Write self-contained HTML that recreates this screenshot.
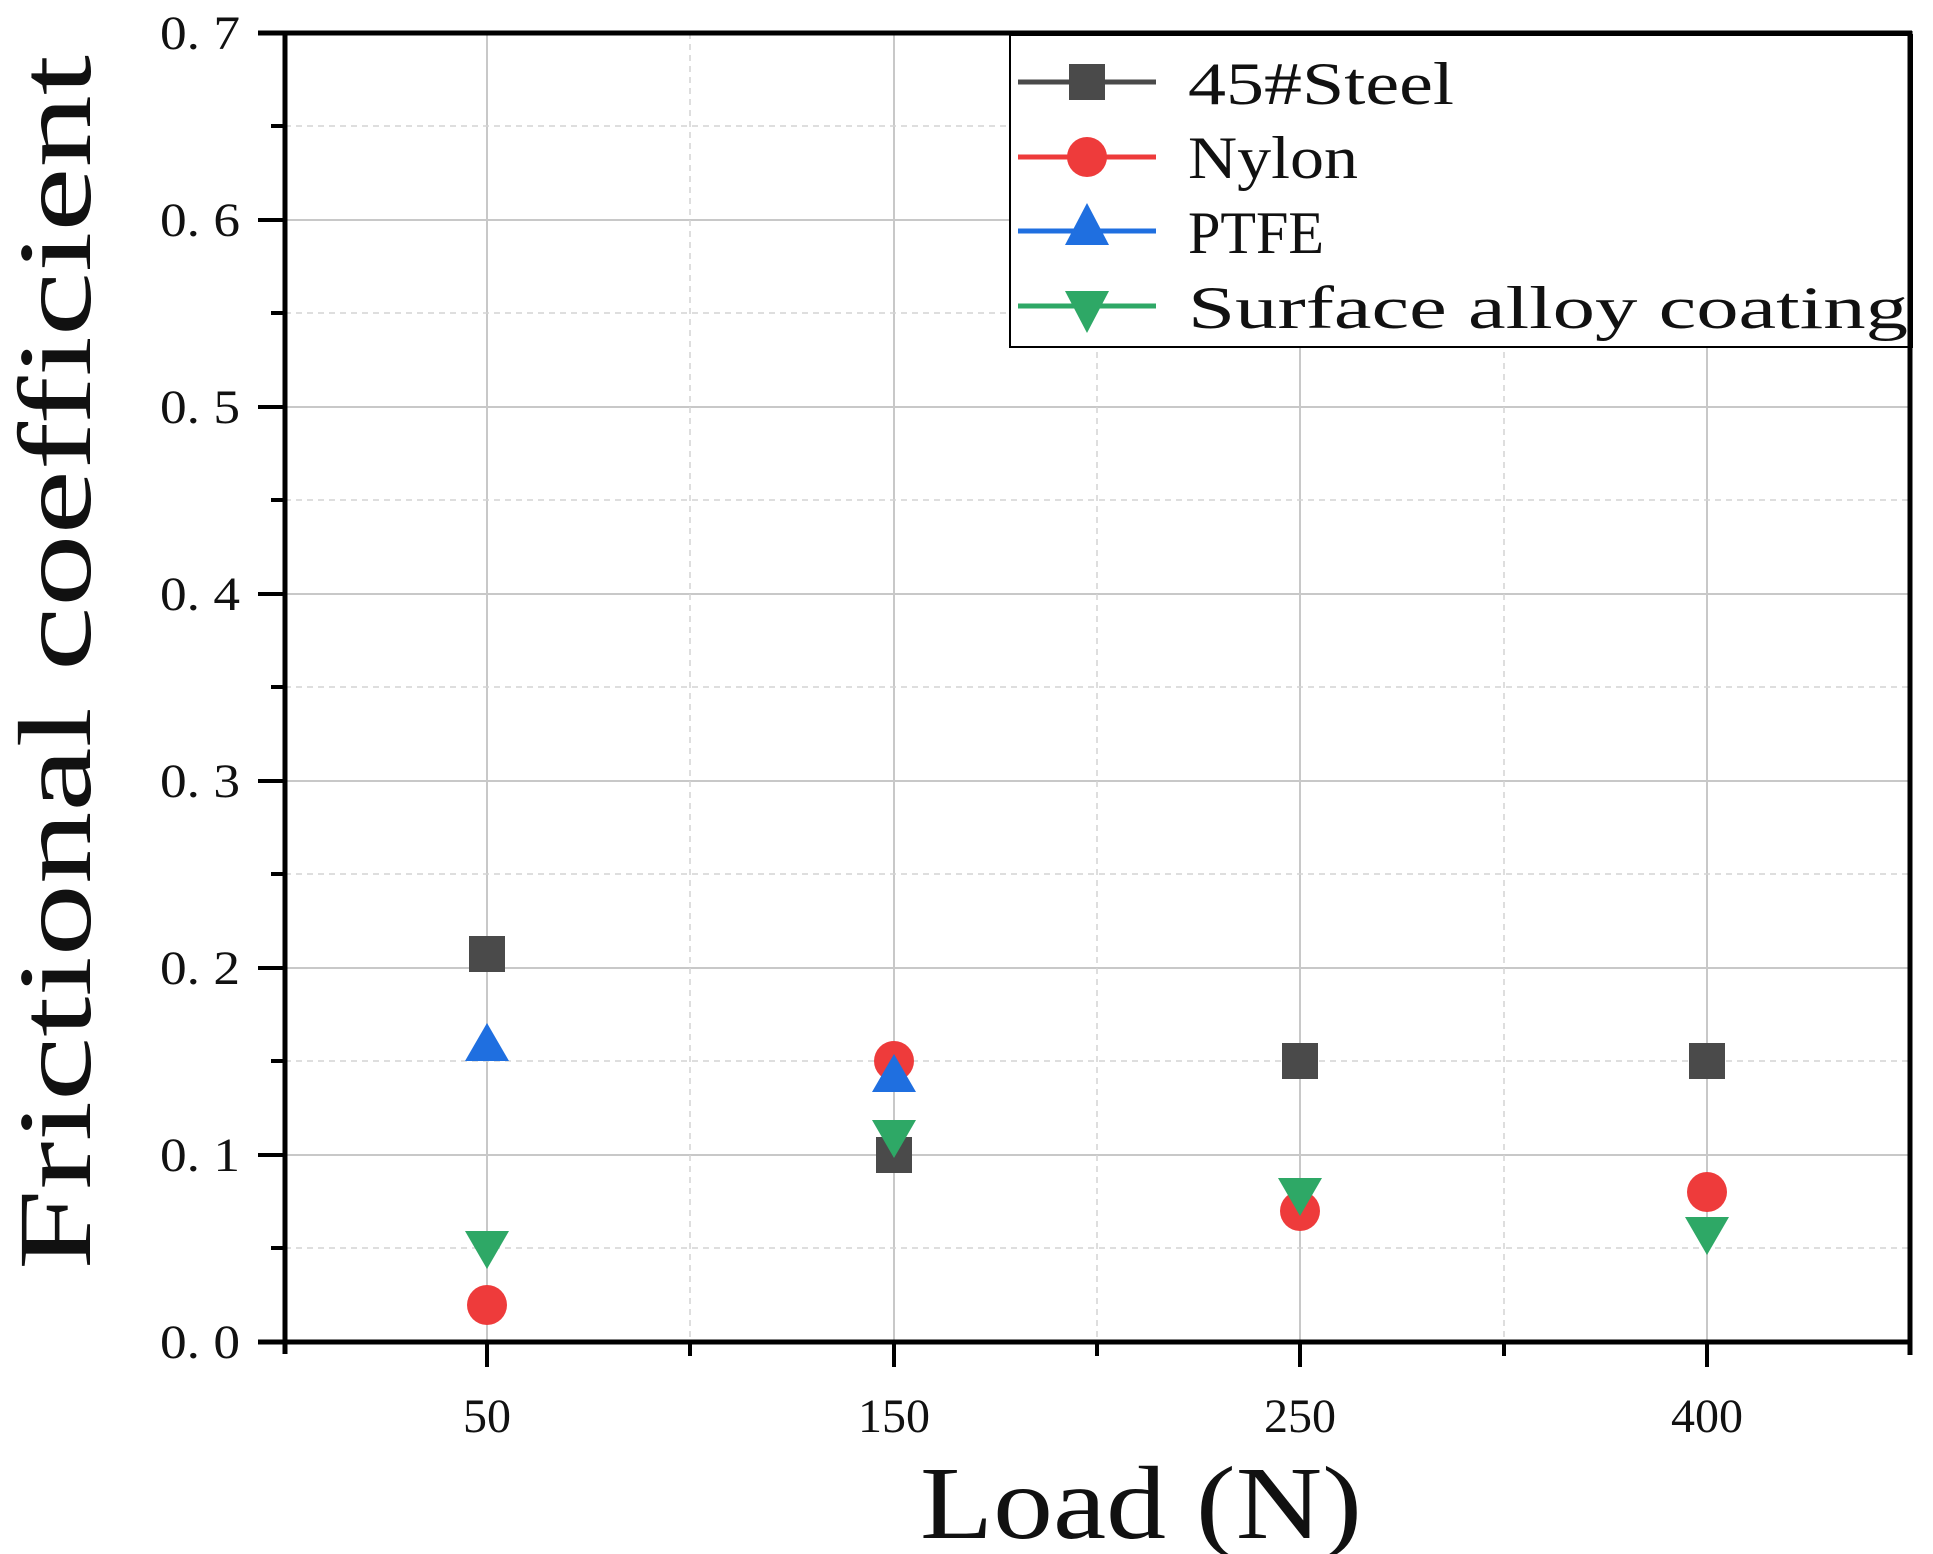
<!DOCTYPE html>
<html><head><meta charset="utf-8"><style>html,body{margin:0;padding:0;background:#fff}svg{display:block}svg text{font-family:"Liberation Serif","DejaVu Serif",serif;font-weight:normal}</style></head>
<body>
<svg width="1933" height="1554" viewBox="0 0 1933 1554" xmlns="http://www.w3.org/2000/svg">
<g stroke="#c8c8c8" stroke-width="2">
<line x1="285" y1="1155" x2="1910" y2="1155"/>
<line x1="285" y1="968" x2="1910" y2="968"/>
<line x1="285" y1="781" x2="1910" y2="781"/>
<line x1="285" y1="594" x2="1910" y2="594"/>
<line x1="285" y1="407" x2="1910" y2="407"/>
<line x1="285" y1="220" x2="1910" y2="220"/>
<line x1="487" y1="33" x2="487" y2="1342"/>
<line x1="894" y1="33" x2="894" y2="1342"/>
<line x1="1300" y1="33" x2="1300" y2="1342"/>
<line x1="1707" y1="33" x2="1707" y2="1342"/>
</g>
<g stroke="#d4d4d4" stroke-width="1.5" stroke-dasharray="6,5">
<line x1="285" y1="1248" x2="1910" y2="1248"/>
<line x1="285" y1="1061" x2="1910" y2="1061"/>
<line x1="285" y1="874" x2="1910" y2="874"/>
<line x1="285" y1="687" x2="1910" y2="687"/>
<line x1="285" y1="500" x2="1910" y2="500"/>
<line x1="285" y1="313" x2="1910" y2="313"/>
<line x1="285" y1="126" x2="1910" y2="126"/>
<line x1="690" y1="33" x2="690" y2="1342"/>
<line x1="1097" y1="33" x2="1097" y2="1342"/>
<line x1="1504" y1="33" x2="1504" y2="1342"/>
</g>
<rect x="1010" y="35" width="902" height="312" fill="#fff" stroke="#000" stroke-width="2"/>
<g fill="#4a4a4a">
<rect x="469" y="936" width="36" height="36"/>
<rect x="876" y="1137" width="36" height="36"/>
<rect x="1282" y="1043" width="36" height="36"/>
<rect x="1689" y="1043" width="36" height="36"/>
</g>
<g fill="#ee3b3b">
<circle cx="487" cy="1305" r="20"/>
<circle cx="894" cy="1061" r="20"/>
<circle cx="1300" cy="1211" r="20"/>
<circle cx="1707" cy="1192" r="20"/>
</g>
<g fill="#1f6fe0">
<polygon points="487,1023 465,1061 509,1061"/>
<polygon points="894,1054 872,1092 916,1092"/>
</g>
<g fill="#2ea866">
<polygon points="465,1231 509,1231 487,1269"/>
<polygon points="872,1120 916,1120 894,1158"/>
<polygon points="1278,1178 1322,1178 1300,1216"/>
<polygon points="1685,1217 1729,1217 1707,1255"/>
</g>
<g stroke="#000" stroke-width="5" fill="none">
<line x1="258" y1="1342" x2="1912" y2="1342"/>
<line x1="285" y1="31" x2="285" y2="1354"/>
<line x1="258" y1="33" x2="1912" y2="33"/>
<line x1="1910" y1="31" x2="1910" y2="1355"/>
</g>
<g stroke="#000" stroke-width="4">
<line x1="487" y1="1342" x2="487" y2="1367"/>
<line x1="894" y1="1342" x2="894" y2="1367"/>
<line x1="1300" y1="1342" x2="1300" y2="1367"/>
<line x1="1707" y1="1342" x2="1707" y2="1367"/>
<line x1="690" y1="1342" x2="690" y2="1356"/>
<line x1="1097" y1="1342" x2="1097" y2="1356"/>
<line x1="1504" y1="1342" x2="1504" y2="1356"/>
<line x1="258" y1="1155" x2="285" y2="1155"/>
<line x1="258" y1="968" x2="285" y2="968"/>
<line x1="258" y1="781" x2="285" y2="781"/>
<line x1="258" y1="594" x2="285" y2="594"/>
<line x1="258" y1="407" x2="285" y2="407"/>
<line x1="258" y1="220" x2="285" y2="220"/>
<line x1="271" y1="1248" x2="285" y2="1248"/>
<line x1="271" y1="1061" x2="285" y2="1061"/>
<line x1="271" y1="874" x2="285" y2="874"/>
<line x1="271" y1="687" x2="285" y2="687"/>
<line x1="271" y1="500" x2="285" y2="500"/>
<line x1="271" y1="313" x2="285" y2="313"/>
<line x1="271" y1="126" x2="285" y2="126"/>
</g>
<g font-size="48" fill="#111" text-anchor="end">
<text x="240" y="1358" textLength="80" lengthAdjust="spacingAndGlyphs">0. 0</text>
<text x="240" y="1171" textLength="80" lengthAdjust="spacingAndGlyphs">0. 1</text>
<text x="240" y="984" textLength="80" lengthAdjust="spacingAndGlyphs">0. 2</text>
<text x="240" y="797" textLength="80" lengthAdjust="spacingAndGlyphs">0. 3</text>
<text x="240" y="610" textLength="80" lengthAdjust="spacingAndGlyphs">0. 4</text>
<text x="240" y="423" textLength="80" lengthAdjust="spacingAndGlyphs">0. 5</text>
<text x="240" y="236" textLength="80" lengthAdjust="spacingAndGlyphs">0. 6</text>
<text x="240" y="49" textLength="80" lengthAdjust="spacingAndGlyphs">0. 7</text>
</g>
<g font-size="48" fill="#111" text-anchor="middle">
<text x="487" y="1432">50</text>
<text x="894" y="1432">150</text>
<text x="1300" y="1432">250</text>
<text x="1707" y="1432">400</text>
</g>
<text x="920" y="1538" font-size="104" textLength="442" lengthAdjust="spacingAndGlyphs" fill="#111">Load (N)</text>
<text transform="translate(90,1270) rotate(-90)" x="0" y="0" font-size="104" textLength="1215" lengthAdjust="spacingAndGlyphs" fill="#111">Frictional coefficient</text>
<g stroke-width="5">
<line x1="1018" y1="82" x2="1156" y2="82" stroke="#4a4a4a"/>
<line x1="1018" y1="157" x2="1156" y2="157" stroke="#ee3b3b"/>
<line x1="1018" y1="231" x2="1156" y2="231" stroke="#1f6fe0"/>
<line x1="1018" y1="306" x2="1156" y2="306" stroke="#2ea866"/>
</g>
<rect x="1069" y="64" width="36" height="36" fill="#4a4a4a"/>
<circle cx="1087" cy="157" r="20" fill="#ee3b3b"/>
<polygon points="1087,203 1065,245 1109,245" fill="#1f6fe0"/>
<polygon points="1065,291 1109,291 1087,333" fill="#2ea866"/>
<g font-size="60" fill="#111">
<text x="1188" y="104" textLength="266" lengthAdjust="spacingAndGlyphs">45#Steel</text>
<text x="1188" y="178" textLength="170" lengthAdjust="spacingAndGlyphs">Nylon</text>
<text x="1188" y="253" textLength="136" lengthAdjust="spacingAndGlyphs">PTFE</text>
<text x="1188" y="328" textLength="720" lengthAdjust="spacingAndGlyphs">Surface alloy coating</text>
</g>
</svg>
</body></html>
